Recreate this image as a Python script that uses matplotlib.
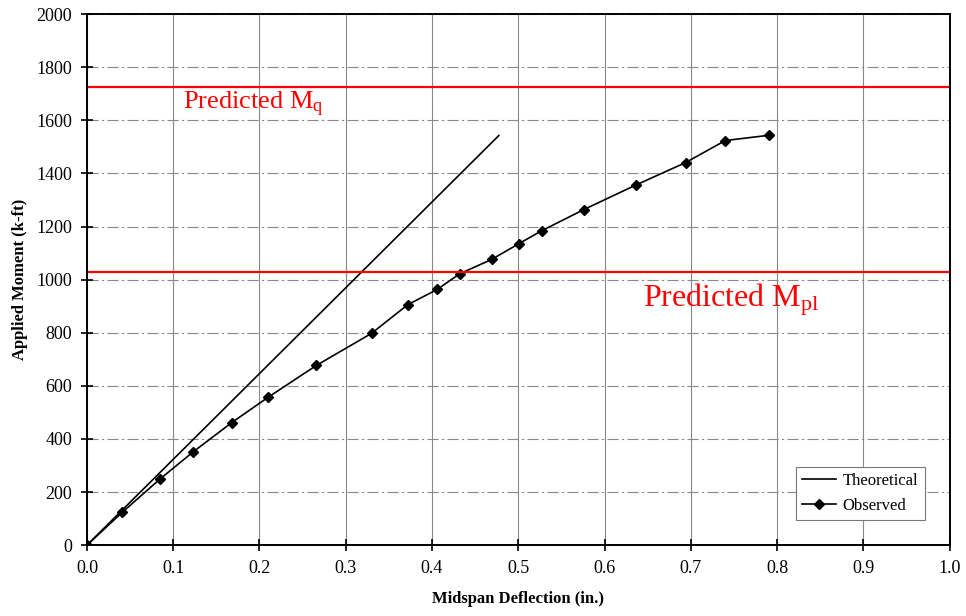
import matplotlib
matplotlib.use('Agg')
import matplotlib.pyplot as plt

plt.rcParams['font.family'] = 'Liberation Serif'
plt.rcParams['mathtext.fontset'] = 'custom'
plt.rcParams['mathtext.rm'] = 'Liberation Serif'
plt.rcParams['mathtext.default'] = 'regular'

# observed test data (deflection in., moment k-ft)
obs_defl = [0.0, 0.041, 0.085, 0.123, 0.168, 0.210, 0.266, 0.330, 0.372, 0.406,
            0.432, 0.469, 0.501, 0.527, 0.576, 0.636, 0.694, 0.740, 0.791]
obs_moment = [0, 124, 250, 351, 462, 557, 677, 798, 906, 963,
              1022, 1076, 1136, 1184, 1264, 1356, 1441, 1524, 1544]

# theoretical linear response
theo_defl = [0.0, 0.4775]
theo_moment = [0, 1543]

# predicted capacities
m_q = 1724
m_pl = 1028

fig = plt.figure(figsize=(9.66, 6.16), dpi=100)
ax = fig.add_axes([0.090, 0.115, 0.893, 0.862])

ax.plot(theo_defl, theo_moment, color='black', linewidth=1.2, label='Theoretical')
ax.plot(obs_defl, obs_moment, color='black', linewidth=1.2, marker='D',
        markersize=5.5, label='Observed')

ax.axhline(m_q, color='red', linewidth=1.6)
ax.axhline(m_pl, color='red', linewidth=1.6)
ax.text(0.111, 1640, r'Predicted M$_{q}$', color='red', fontsize=19)
ax.text(0.645, 900, r'Predicted M$_{pl}$', color='red', fontsize=23)

ax.set_xlim(0, 1.0)
ax.set_ylim(0, 2000)
ax.set_xticks([i / 10 for i in range(11)])
ax.set_yticks(range(0, 2001, 200))
ax.xaxis.set_major_formatter(matplotlib.ticker.FormatStrFormatter('%.1f'))
ax.tick_params(direction='inout', length=9, width=1.2, labelsize=13, pad=6)

ax.grid(True, axis='x', color='#888888', linewidth=0.8, linestyle='-')
ax.grid(True, axis='y', color='#888888', linewidth=0.8, linestyle=(0, (10, 3, 2, 3)))
ax.set_axisbelow(True)
for s in ax.spines.values():
    s.set_linewidth(1.4)

ax.set_xlabel('Midspan Deflection (in.)', fontsize=12, fontweight='bold', labelpad=10)
ax.set_ylabel('Applied Moment (k-ft)', fontsize=12, fontweight='bold', labelpad=6)

leg = ax.legend(loc='lower right', bbox_to_anchor=(0.971, 0.047), borderaxespad=0,
                fontsize=12, fancybox=False, framealpha=1, edgecolor='#777777',
                handlelength=2.0, handletextpad=0.4, borderpad=0.4, labelspacing=0.5)
leg.get_frame().set_linewidth(0.8)

fig.savefig('out.png', dpi=100)
